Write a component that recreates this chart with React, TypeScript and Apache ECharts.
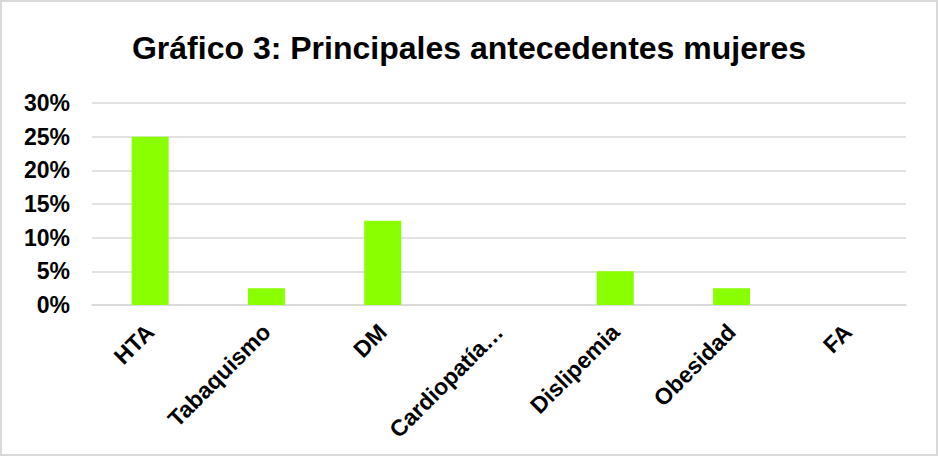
import React, { useEffect, useRef } from "react";
import * as echarts from "echarts";

const titleText = "Gráfico 3: Principales antecedentes mujeres";
const categories = ["HTA", "Tabaquismo", "DM", "Cardiopatía…", "Dislipemia", "Obesidad", "FA"];
const values = [25, 2.5, 12.5, 0, 5, 2.5, 0];
const yTicks = { min: 0, max: 30, interval: 5 };

export default function App() {
  const ref = useRef<HTMLDivElement>(null);
  useEffect(() => {
    document.body.style.margin = "0";
    const chart = echarts.init(ref.current!, null, { renderer: "svg" });
    const font = "'Liberation Sans', Arial, sans-serif";
    chart.setOption({
      animation: false,
      backgroundColor: "#ffffff",
      title: {
        text: titleText,
        left: "center",
        top: 25,
        textStyle: { fontFamily: font, fontWeight: "bold", fontSize: 32, color: "#000000" },
      },
      grid: { left: 90, right: 30, top: 101, bottom: 149, containLabel: false },
      xAxis: {
        type: "category",
        data: categories,
        axisLine: { show: true, lineStyle: { color: "#d9d9d9", width: 1.5 } },
        axisTick: { show: false },
        axisLabel: {
          rotate: 45,
          interval: 0,
          margin: 23,
          fontFamily: font,
          fontWeight: "bold",
          fontSize: 23,
          color: "#000000",
        },
      },
      yAxis: {
        type: "value",
        min: yTicks.min,
        max: yTicks.max,
        interval: yTicks.interval,
        axisLine: { show: false },
        axisTick: { show: false },
        splitLine: { lineStyle: { color: "#d9d9d9", width: 1.5 } },
        axisLabel: {
          formatter: "{value}%",
          margin: 22,
          fontFamily: font,
          fontWeight: "bold",
          fontSize: 23,
          color: "#000000",
        },
      },
      series: [
        {
          type: "bar",
          data: values,
          barWidth: 37,
          itemStyle: { color: "#8aff00" },
        },
      ],
    });
    return () => chart.dispose();
  }, []);
  return (
    <div
      style={{
        position: "absolute",
        left: 0,
        top: 0,
        width: 938,
        height: 456,
        boxSizing: "border-box",
        border: "2px solid #d9d9d9",
        background: "#fff",
      }}
    >
      <div ref={ref} style={{ width: 934, height: 452 }} />
    </div>
  );
}
